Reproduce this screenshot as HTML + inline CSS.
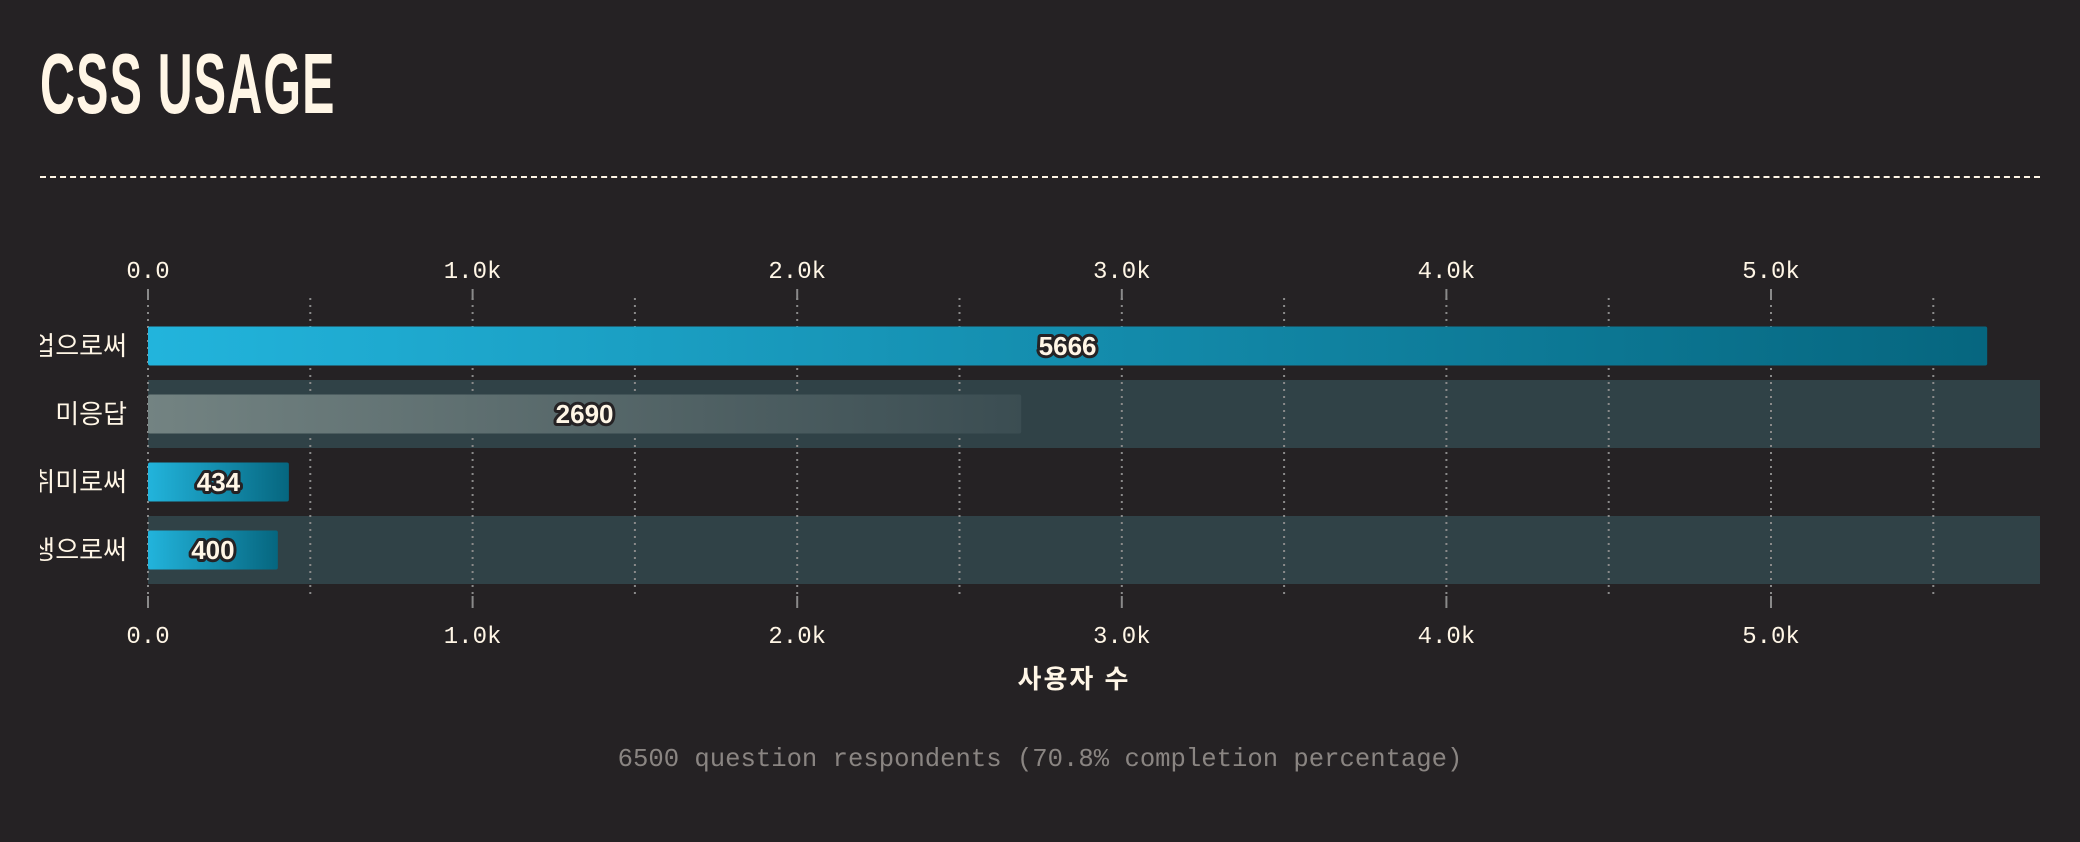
<!DOCTYPE html>
<html><head><meta charset="utf-8"><style>
html,body{margin:0;padding:0;background:#252224;}
body{width:2080px;height:842px;overflow:hidden;position:relative;font-family:"Liberation Sans","Noto Sans CJK KR",sans-serif;}
#title{position:absolute;left:40px;top:42px;font-family:"Liberation Sans Narrow","Liberation Sans",sans-serif;font-weight:bold;font-size:85px;color:#fff6e6;transform:scaleX(0.57);transform-origin:left top;letter-spacing:2px;margin:0;line-height:1;}
#rule{position:absolute;left:40px;top:176px;width:2000px;border-top:2px dashed #fff6e6;}
#foot{position:absolute;left:0;width:2080px;top:745px;text-align:center;font-family:"Liberation Mono",monospace;font-size:25.6px;color:#8a8582;}
</style></head><body>
<h1 id="title">CSS USAGE</h1>
<div id="rule"></div>
<svg id="chart" width="2080" height="842" style="position:absolute;left:0;top:0">
<defs>
<linearGradient id="gBlue" x1="0" x2="1" y1="0" y2="0"><stop offset="0" stop-color="#22b4dc"/><stop offset="1" stop-color="#06667f"/></linearGradient>
<linearGradient id="gGray" x1="0" x2="1" y1="0" y2="0"><stop offset="0" stop-color="#738382"/><stop offset="1" stop-color="#3b4d52"/></linearGradient>
<clipPath id="lblclip"><rect x="40" y="0" width="200" height="842"/></clipPath>
</defs>
</svg>
<div id="foot">6500 question respondents (70.8% completion percentage)</div>
<script>
const categories = ["직업으로써","미응답","취미로써","학생으로써"];
const values = [5666, 2690, 434, 400];
const highlight = [false, true, false, true];
const tickValues = [0,1000,2000,3000,4000,5000];
const tickLabels = ["0.0","1.0k","2.0k","3.0k","4.0k","5.0k"];
const minorTicks = [500,1500,2500,3500,4500,5500];

const NS="http://www.w3.org/2000/svg";
const svg=document.getElementById('chart');
const X0=148, PX=0.3246, ROW0=312, ROWH=68, BARH=39, XEND=2040;
const x=v=>X0+v*PX;
const rowY=i=>ROW0+i*ROWH;
function el(t,a,p){const e=document.createElementNS(NS,t);for(const k in a)e.setAttribute(k,a[k]);(p||svg).appendChild(e);return e;}

categories.forEach((c,i)=>{ if(highlight[i]){
 const r=el('rect',{x:X0,y:rowY(i),width:XEND-X0,height:ROWH,fill:'#304247'});
 
 
}});
tickValues.concat(minorTicks).forEach(v=>{
 const l=el('line',{x1:x(v),x2:x(v),y1:298,y2:594,stroke:'#8a8a8a','stroke-width':2,'stroke-dasharray':'2 5'});
 
 
});
tickValues.forEach((v,i)=>{
 [[289,300],[596,608]].forEach(([a,b])=>{
  const t=el('line',{x1:x(v),x2:x(v),y1:a,y2:b,stroke:'#8a8a8a','stroke-width':2});
  
  
 });
 [278,643].forEach(y=>{
  const t=el('text',{x:x(v),y:y,'text-anchor':'middle',fill:'#fff6e6','font-family':'Liberation Mono, monospace','font-size':24});
  t.textContent=tickLabels[i];
  
  
 });
});
categories.forEach((c,i)=>{
 const y=rowY(i)+(ROWH-BARH)/2;
 const b=el('rect',{x:X0,y:y,width:values[i]*PX,height:BARH,rx:2,fill:i===1?'url(#gGray)':'url(#gBlue)'});
 
 
 const v=el('text',{x:x(values[i]/2),y:y+BARH/2+9,'text-anchor':'middle',fill:'#fff6e6','font-weight':'bold','font-size':26,stroke:'#252224','stroke-width':6,'paint-order':'stroke','stroke-linejoin':'round','font-family':'Liberation Sans, sans-serif'});
 v.textContent=values[i];
 
 
 const g=el('g',{'clip-path':'url(#lblclip)'});
 const l=el('text',{x:127,y:rowY(i)+ROWH/2+9,'text-anchor':'end',fill:'#fff6e6','font-size':26,'font-family':'Liberation Sans, Noto Sans CJK KR, sans-serif'},g);
 l.textContent=c;
 
 
});
const at=el('text',{x:1074,y:688,'text-anchor':'middle',fill:'#fff6e6','font-weight':'bold','font-size':26,'letter-spacing':2,'font-family':'Liberation Sans, Noto Sans CJK KR, sans-serif'});
at.textContent='사용자 수';


</script>
</body></html>
